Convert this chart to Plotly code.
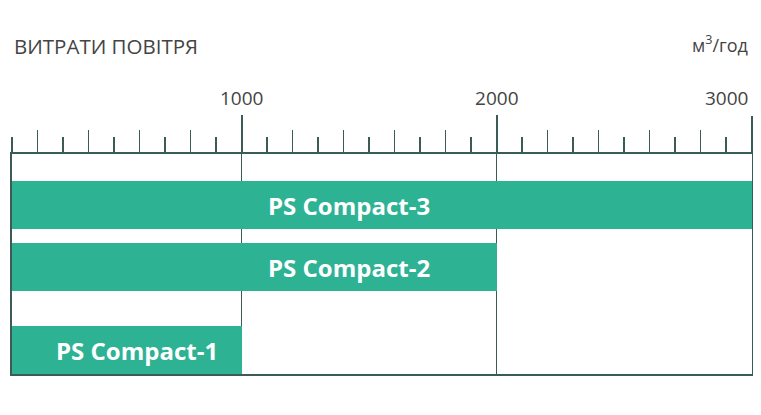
import plotly.graph_objects as go

# air flow range per unit, m3/h
models = ["PS Compact-3", "PS Compact-2", "PS Compact-1"]
max_flow = [3000, 2000, 1000]

major_ticks = [1000, 2000]
major_labels = ["1000", "2000"]
end_tick = [3000]
end_label = "3000"
odd_ticks = [100, 300, 500, 700, 900, 1100, 1300, 1500, 1700, 1900,
             2100, 2300, 2500, 2700, 2900]

# layout helpers (rows in a 0..220 px-like axis, label anchors)
row_pos = [51, 113, 196]
label_x = [1420, 1420, 590]

GREEN = "#2db294"
LINE = "#3b5b57"
TEXT = "#444444"
FONT = "Open Sans"

fig = go.Figure()

fig.add_trace(go.Bar(
    x=max_flow, y=row_pos,
    orientation="h",
    width=48,
    marker_color=GREEN,
    marker_line_width=0,
    hoverinfo="skip",
))

# hidden traces so the overlay axes get drawn
fig.add_trace(go.Scatter(x=[None], y=[None], xaxis="x2", showlegend=False))
fig.add_trace(go.Scatter(x=[None], y=[None], xaxis="x3", showlegend=False))

for name, lx, ry in zip(models, label_x, row_pos):
    fig.add_annotation(x=lx, y=ry, text="<b>" + name + "</b>", showarrow=False,
                       font=dict(family=FONT, size=24, color="white"),
                       xanchor="center", yanchor="middle")

# last tick label sits left of its tick so it stays inside the page
fig.add_annotation(x=end_tick[0], y=1.255, xref="x", yref="paper",
                   text=end_label, showarrow=False,
                   xanchor="right", yanchor="middle", xshift=-2,
                   font=dict(family=FONT, size=19, color=TEXT))

fig.add_annotation(x=0, y=1.49, xref="paper", yref="paper", xshift=0,
                   text="ВИТРАТИ ПОВІТРЯ", showarrow=False,
                   xanchor="left", yanchor="middle",
                   font=dict(family=FONT, size=20.5, color=TEXT))
fig.add_annotation(x=1, y=1.50, xref="paper", yref="paper", xshift=-2,
                   text="м<sup>3</sup>/год", showarrow=False,
                   xanchor="right", yanchor="middle",
                   font=dict(family=FONT, size=18, color=TEXT))

fig.update_layout(
    width=761, height=415,
    margin=dict(l=4, r=17, t=146, b=49),
    paper_bgcolor="white", plot_bgcolor="white",
    showlegend=False,
    bargap=0,
    xaxis=dict(
        range=[100, 3000], side="top", automargin=False,
        tickvals=major_ticks, ticktext=major_labels,
        ticks="outside", ticklen=37, tickwidth=2, tickcolor=LINE,
        tickfont=dict(family=FONT, size=19, color=TEXT),
        ticklabelstandoff=3,
        minor=dict(dtick=200, tick0=0, ticks="outside", ticklen=22,
                   tickwidth=1, tickcolor=LINE, showgrid=False),
        showgrid=True, gridcolor=LINE, gridwidth=1,
        showline=True, linecolor=LINE, linewidth=1.5, mirror=True,
        zeroline=False, layer="below traces", fixedrange=True,
    ),
    xaxis2=dict(
        range=[100, 3000], overlaying="x", side="top", anchor="y",
        automargin=False,
        tickvals=odd_ticks, ticks="outside", ticklen=16, tickwidth=2,
        tickcolor=LINE, showticklabels=False, showgrid=False,
        showline=False, zeroline=False,
    ),
    xaxis3=dict(
        range=[100, 3000], overlaying="x", side="top", anchor="y",
        automargin=False,
        tickvals=end_tick, ticks="outside", ticklen=37, tickwidth=2.5,
        tickcolor=LINE, showticklabels=False,
        showgrid=False, showline=False, zeroline=False,
    ),
    yaxis=dict(
        range=[220, 0], showticklabels=False, ticks="", automargin=False,
        showgrid=False, zeroline=False,
        showline=True, linecolor=LINE, linewidth=1.5, mirror=True,
        layer="below traces", fixedrange=True,
    ),
)

fig.write_html("out.html")
